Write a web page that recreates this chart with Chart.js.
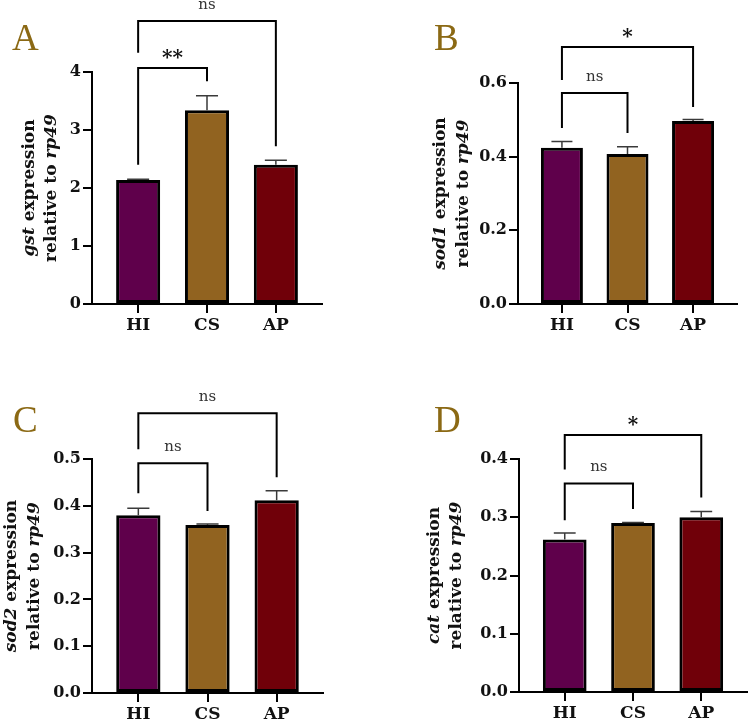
<!DOCTYPE html>
<html>
<head>
<meta charset="utf-8">
<script src="https://cdn.jsdelivr.net/npm/chart.js@4.4.0/dist/chart.umd.min.js"></script>
<style>
body{margin:0;background:#fff;width:748px;height:722px;position:relative;overflow:hidden}
.panel{position:absolute;width:374px;height:361px}
</style>
</head>
<body>
<div class="panel" style="left:0;top:0"><canvas id="grafA" width="374" height="361"></canvas></div>
<div class="panel" style="left:374px;top:0"><canvas id="grafB" width="374" height="361"></canvas></div>
<div class="panel" style="left:0;top:361px"><canvas id="grafC" width="374" height="361"></canvas></div>
<div class="panel" style="left:374px;top:361px"><canvas id="grafD" width="374" height="361"></canvas></div>
<script>
// datos
var grupos = ["HI", "CS", "AP"];
var colores = ["#5f004b", "#916320", "#700009"];

var gstMedia = [2.14, 3.34, 2.40];
var gstError = [0.01, 0.25, 0.08];
var gstTicks = [0, 1, 2, 3, 4];

var sod1Media = [0.424, 0.407, 0.497];
var sod1Error = [0.017, 0.020, 0.004];
var sod1Ticks = [0, 0.2, 0.4, 0.6];

var sod2Media = [0.380, 0.359, 0.412];
var sod2Error = [0.015, 0.002, 0.020];
var sod2Ticks = [0, 0.1, 0.2, 0.3, 0.4, 0.5];

var catMedia = [0.262, 0.290, 0.300];
var catError = [0.011, 0.001, 0.010];
var catTicks = [0, 0.1, 0.2, 0.3, 0.4];

// comparaciones: grupo desde/hasta, altura del corchete y de las patas
var gstComparaciones = [
    {desde: 0, hasta: 1, arriba: 4.07, patas: [2.40, 3.84], texto: "**"},
    {desde: 0, hasta: 2, arriba: 4.88, patas: [4.33, 2.72], texto: "ns"}
];
var sod1Comparaciones = [
    {desde: 0, hasta: 1, arriba: 0.573, patas: [0.478, 0.464], texto: "ns"},
    {desde: 0, hasta: 2, arriba: 0.698, patas: [0.608, 0.535], texto: "*"}
];
var sod2Comparaciones = [
    {desde: 0, hasta: 1, arriba: 0.491, patas: [0.427, 0.389], texto: "ns"},
    {desde: 0, hasta: 2, arriba: 0.598, patas: [0.521, 0.461], texto: "ns"}
];
var catComparaciones = [
    {desde: 0, hasta: 1, arriba: 0.358, patas: [0.295, 0.314], texto: "ns"},
    {desde: 0, hasta: 2, arriba: 0.441, patas: [0.382, 0.334], texto: "*"}
];

var fuente = "DejaVu Serif";

function dibujaTituloY(ctx, lineas, xs, cy){
    for (let l = 0; l < lineas.length; l++) {
        let partes = lineas[l];
        let total = 0;
        partes.forEach(p => {
            ctx.font = (p.i ? "italic " : "") + "bold 17px '" + fuente + "'";
            total += ctx.measureText(p.t).width;
        });
        ctx.save();
        ctx.translate(xs[l], cy);
        ctx.rotate(-Math.PI / 2);
        ctx.textBaseline = "middle";
        ctx.textAlign = "left";
        ctx.fillStyle = "#111";
        let pos = -total / 2;
        partes.forEach(p => {
            ctx.font = (p.i ? "italic " : "") + "bold 17px '" + fuente + "'";
            ctx.fillText(p.t, pos, 0);
            pos += ctx.measureText(p.t).width;
        });
        ctx.restore();
    }
}

var pluginExtras = {
    id: "extras",
    afterDraw: function(chart, args, op){
        var ctx = chart.ctx;
        var x = chart.scales.x, y = chart.scales.y;
        var meta = chart.getDatasetMeta(0);
        var area = chart.chartArea;
        ctx.save();
        // barras de error
        ctx.strokeStyle = "#3a3a3a";
        ctx.lineWidth = 1.5;
        op.errores.forEach(function(e, i){
            var bar = meta.data[i];
            var yTop = y.getPixelForValue(op.medias[i] + e);
            var mitad = bar.width / 4;
            ctx.beginPath();
            ctx.moveTo(bar.x, bar.y);
            ctx.lineTo(bar.x, yTop);
            ctx.moveTo(bar.x - mitad, yTop);
            ctx.lineTo(bar.x + mitad, yTop);
            ctx.stroke();
        });
        // corchetes de significancia
        ctx.strokeStyle = "#000";
        ctx.lineWidth = 2;
        op.comparaciones.forEach(function(c){
            var xl = x.getPixelForValue(c.desde), xr = x.getPixelForValue(c.hasta);
            var yt = y.getPixelForValue(c.arriba);
            ctx.beginPath();
            ctx.moveTo(xl, y.getPixelForValue(c.patas[0]));
            ctx.lineTo(xl, yt);
            ctx.lineTo(xr, yt);
            ctx.lineTo(xr, y.getPixelForValue(c.patas[1]));
            ctx.stroke();
            ctx.textAlign = "center";
            ctx.textBaseline = "alphabetic";
            if (c.texto == "ns") {
                ctx.font = "15px '" + fuente + "'";
                ctx.fillStyle = "#333";
                ctx.fillText(c.texto, (xl + xr) / 2, yt - 12);
            } else {
                ctx.font = "bold 20px '" + fuente + "'";
                ctx.fillStyle = "#111";
                ctx.fillText(c.texto, (xl + xr) / 2, yt - 4);
            }
        });
        // letra del panel
        ctx.font = "37px 'Liberation Serif'";
        ctx.fillStyle = "#8B6914";
        ctx.textAlign = "left";
        ctx.fillText(op.letra, op.letraPos[0], op.letraPos[1]);
        ctx.restore();
        dibujaTituloY(ctx, op.titulo, [area.left + op.tituloX[0], area.left + op.tituloX[1]], (area.top + area.bottom) / 2);
    }
};

function dibujaPanel(id, medias, errores, ticks, decimales, comparaciones, cfg){
    var ctx = document.getElementById(id).getContext("2d");
    var puntos = medias.map((m, i) => ({x: i, y: m}));
    var borde = {display: true, color: "#000", width: 2};
    new Chart(ctx, {
        type: "bar",
        data: {
            datasets: [{
                data: puntos,
                backgroundColor: colores,
                borderColor: "#000",
                borderWidth: 3,
                borderSkipped: false,
                categoryPercentage: 1,
                barPercentage: 0.64
            }]
        },
        options: {
            responsive: false,
            animation: false,
            layout: {padding: {top: cfg.arriba, right: cfg.derecha, left: 0, bottom: 0}},
            plugins: {
                legend: {display: false},
                tooltip: {enabled: false},
                extras: {
                    medias: medias, errores: errores, comparaciones: comparaciones,
                    letra: cfg.letra, letraPos: cfg.letraPos,
                    titulo: cfg.titulo, tituloX: cfg.tituloX
                }
            },
            scales: {
                x: {
                    type: "linear",
                    min: -0.67,
                    max: 2.67,
                    offset: false,
                    afterBuildTicks: s => { s.ticks = grupos.map((g, i) => ({value: i})); },
                    afterFit: s => { s.height = cfg.altoX; },
                    ticks: {
                        callback: v => grupos[v],
                        font: {family: fuente, weight: "bold", size: 17},
                        color: "#111",
                        padding: 2,
                        maxRotation: 0,
                        autoSkip: false
                    },
                    grid: {display: true, offset: false, drawOnChartArea: false, drawTicks: true, tickLength: 9, color: "#000", lineWidth: 2},
                    border: borde
                },
                y: {
                    min: ticks[0],
                    max: ticks[ticks.length - 1],
                    afterBuildTicks: s => { s.ticks = ticks.map(v => ({value: v})); },
                    afterFit: s => { s.width = cfg.anchoY; },
                    ticks: {
                        callback: v => v.toFixed(decimales),
                        font: {family: fuente, weight: "bold", size: 16},
                        color: "#111",
                        padding: 2
                    },
                    grid: {display: true, drawOnChartArea: false, drawTicks: true, tickLength: 9, color: "#000", lineWidth: 2},
                    border: borde
                }
            }
        },
        plugins: [pluginExtras]
    });
}

dibujaPanel("grafA", gstMedia, gstError, gstTicks, 0, gstComparaciones, {
    arriba: 72, derecha: 52, anchoY: 92, altoX: 57,
    letra: "A", letraPos: [12, 50], tituloX: [-62, -40],
    titulo: [[{t: "gst", i: true}, {t: " expression"}], [{t: "relative to "}, {t: "rp49", i: true}]]
});
dibujaPanel("grafB", sod1Media, sod1Error, sod1Ticks, 1, sod1Comparaciones, {
    arriba: 83, derecha: 11, anchoY: 144, altoX: 57,
    letra: "B", letraPos: [60, 50], tituloX: [-77, -54],
    titulo: [[{t: "sod1", i: true}, {t: " expression"}], [{t: "relative to "}, {t: "rp49", i: true}]]
});
dibujaPanel("grafC", sod2Media, sod2Error, sod2Ticks, 1, sod2Comparaciones, {
    arriba: 98, derecha: 51, anchoY: 92, altoX: 29,
    letra: "C", letraPos: [13, 71], tituloX: [-80, -57],
    titulo: [[{t: "sod2", i: true}, {t: " expression"}], [{t: "relative to "}, {t: "rp49", i: true}]]
});
dibujaPanel("grafD", catMedia, catError, catTicks, 1, catComparaciones, {
    arriba: 98, derecha: 1, anchoY: 145, altoX: 30,
    letra: "D", letraPos: [60, 71], tituloX: [-84, -62],
    titulo: [[{t: "cat", i: true}, {t: " expression"}], [{t: "relative to "}, {t: "rp49", i: true}]]
});
</script>
</body>
</html>
